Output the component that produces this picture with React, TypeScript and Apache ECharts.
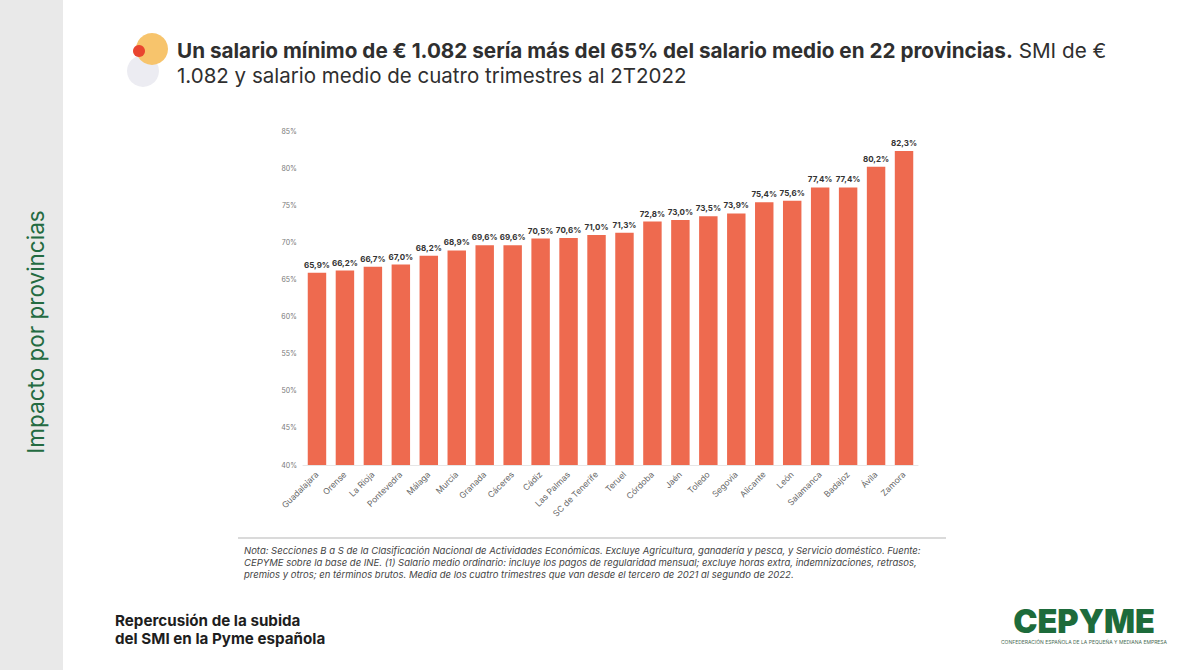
import React, { useEffect, useRef } from "react";
import * as echarts from "echarts";

const categories = [
  "Guadalajara", "Orense", "La Rioja", "Pontevedra", "Málaga", "Murcia", "Granada", "Cáceres",
  "Cádiz", "Las Palmas", "SC de Tenerife", "Teruel", "Córdoba", "Jaén", "Toledo", "Segovia",
  "Alicante", "León", "Salamanca", "Badajoz", "Ávila", "Zamora",
];
const values = [
  65.9, 66.2, 66.7, 67.0, 68.2, 68.9, 69.6, 69.6, 70.5, 70.6, 71.0, 71.3, 72.8, 73.0, 73.5, 73.9,
  75.4, 75.6, 77.4, 77.4, 80.2, 82.3,
];
const yMin = 40;
const yMax = 85;
const yStep = 5;

const titleBold = "Un salario mínimo de € 1.082 sería más del 65% del salario medio en 22 provincias.";
const titleRest1 = " SMI de €";
const titleRest2 = "1.082 y salario medio de cuatro trimestres al 2T2022";
const noteLines = [
  "Nota: Secciones B a S de la Clasificación Nacional de Actividades Económicas. Excluye Agricultura, ganadería y pesca, y Servicio doméstico. Fuente:",
  "CEPYME sobre la base de INE. (1) Salario medio ordinario: incluye los pagos de regularidad mensual; excluye horas extra, indemnizaciones, retrasos,",
  "premios y otros; en términos brutos. Media de los cuatro trimestres que van desde el tercero de 2021 al segundo de 2022.",
];
const footerLines = ["Repercusión de la subida", "del SMI en la Pyme española"];
const sideText = "Impacto por provincias";

const fmt = (v: number) => v.toFixed(1).replace(".", ",") + "%";

export default function App() {
  const ref = useRef<HTMLDivElement>(null);
  useEffect(() => {
    if (!ref.current) return;
    const chart = echarts.init(ref.current, null, { renderer: "svg" });
    const font = "Inter, 'Open Sans', sans-serif";
    chart.setOption({
      animation: false,
      backgroundColor: "#ffffff",
      textStyle: { fontFamily: font },
      grid: { left: 303, right: 282, top: 131, bottom: 205, containLabel: false },
      xAxis: {
        type: "category",
        data: categories,
        axisLine: { show: true, lineStyle: { color: "#e6e6e6", width: 1 } },
        axisTick: { show: false },
        axisLabel: {
          rotate: 45,
          interval: 0,
          fontSize: 8.5,
          color: "#666",
          fontFamily: font,
          margin: 8,
        },
      },
      yAxis: {
        type: "value",
        min: yMin,
        max: yMax,
        interval: yStep,
        axisLine: { show: false },
        axisTick: { show: false },
        splitLine: { show: false },
        axisLabel: {
          fontSize: 7,
          color: "#777",
          fontFamily: font,
          margin: 6,
          formatter: (v: number) => v + "%",
        },
      },
      series: [
        {
          type: "bar",
          data: values,
          barWidth: "66%",
          itemStyle: { color: "#ee6a4f" },
          label: {
            show: true,
            position: "top",
            distance: 4,
            fontSize: 8,
            fontWeight: "bold",
            color: "#333",
            fontFamily: font,
            formatter: (p: any) => fmt(p.value),
          },
        },
      ],
      graphic: [
        { type: "rect", shape: { x: 0, y: 0, width: 63, height: 670 }, style: { fill: "#e9e9e9" }, silent: true },
        {
          type: "text",
          x: 35,
          y: 332,
          rotation: Math.PI / 2,
          style: {
            text: sideText,
            fill: "#246b41",
            font: `22.5px ${font}`,
            align: "center",
            verticalAlign: "middle",
          },
        },
        { type: "circle", shape: { cx: 143, cy: 71, r: 16 }, style: { fill: "#ececf2" } },
        { type: "circle", shape: { cx: 152, cy: 49, r: 16 }, style: { fill: "#f7c46c" } },
        { type: "circle", shape: { cx: 139, cy: 51, r: 6 }, style: { fill: "#e9452f" } },
        {
          type: "text",
          x: 177,
          y: 50,
          style: {
            text: `{b|${titleBold}}{r|${titleRest1}}`,
            verticalAlign: "middle",
            rich: {
              b: { fill: "#2f2f2f", fontSize: 20.7, fontWeight: "bold", fontFamily: font },
              r: { fontSize: 20.7, fontFamily: font, fill: "#2f2f2f" },
            },
          },
        },
        {
          type: "text",
          x: 177,
          y: 75,
          style: {
            text: titleRest2,
            fill: "#2f2f2f",
            font: `20.5px ${font}`,
            verticalAlign: "middle",
          },
        },
        { type: "line", shape: { x1: 238, y1: 538, x2: 946, y2: 538 }, style: { stroke: "#b5b5b5", lineWidth: 1.2 } },
        ...noteLines.map((t, i) => ({
          type: "text",
          x: 244,
          y: 550 + i * 12,
          style: { text: t, fill: "#444", font: `italic 9.5px ${font}`, verticalAlign: "middle" },
        })),
        ...footerLines.map((t, i) => ({
          type: "text",
          x: 115,
          y: 620 + i * 18,
          style: { text: t, fill: "#1e1e1e", font: `bold 15.2px ${font}`, verticalAlign: "middle" },
        })),
        {
          type: "text",
          x: 1084,
          y: 621,
          style: {
            text: "CEPYME",
            fill: "#1d6b3b",
            font: `900 32.5px ${font}`,
            align: "center",
            verticalAlign: "middle",
          },
        },
        {
          type: "text",
          x: 1084,
          y: 642,
          style: {
            text: "CONFEDERACIÓN ESPAÑOLA DE LA PEQUEÑA Y MEDIANA EMPRESA",
            fill: "#4a6b55",
            font: `5px ${font}`,
            align: "center",
            verticalAlign: "middle",
          },
        },
      ],
    });
    return () => chart.dispose();
  }, []);
  return (
    <div
      ref={ref}
      style={{ position: "fixed", left: 0, top: 0, width: 1200, height: 670 }}
    />
  );
}
